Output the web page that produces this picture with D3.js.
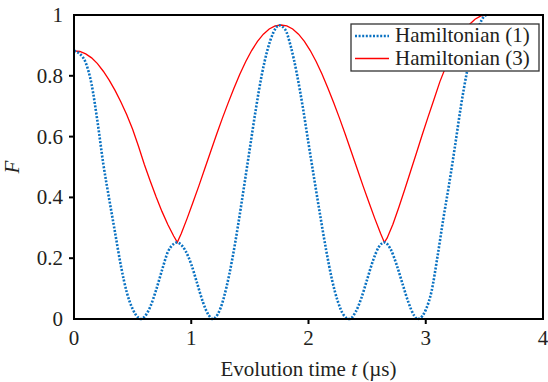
<!DOCTYPE html>
<html>
<head>
<meta charset="utf-8">
<script src="https://cdn.jsdelivr.net/npm/d3@7"></script>
<style>
    body { margin: 0; background: #fff; }
</style>
</head>
<body>
<svg></svg>
<script>

// Values.
var xTicks = [0, 1, 2, 3, 4];
var yTicks = [0, 0.2, 0.4, 0.6, 0.8, 1];
var yTickLabels = ['0', '0.2', '0.4', '0.6', '0.8', '1'];
var seriesNames = ['Hamiltonian (1)', 'Hamiltonian (3)'];

// Hamiltonian (1), dotted blue.
var blueT = [0, 0.05, 0.10, 0.15, 0.20, 0.25, 0.30, 0.35, 0.40, 0.45, 0.50, 0.55, 0.57,
    0.60, 0.65, 0.70, 0.75, 0.80, 0.85, 0.881, 0.90, 0.95, 1.00, 1.05, 1.10, 1.15, 1.183,
    1.20, 1.25, 1.30, 1.35, 1.40, 1.45, 1.50, 1.55, 1.60, 1.65, 1.70, 1.75, 1.80, 1.85,
    1.90, 1.95, 2.00, 2.05, 2.10, 2.15, 2.20, 2.25, 2.30, 2.348,
    2.40, 2.45, 2.50, 2.55, 2.60, 2.647, 2.70, 2.75, 2.80, 2.85, 2.90, 2.93,
    2.95, 3.00, 3.05, 3.10, 3.15, 3.20, 3.25, 3.30, 3.35, 3.40, 3.45, 3.50, 3.52];
var blueF = [0.882, 0.872, 0.843, 0.772, 0.650, 0.510, 0.395, 0.285, 0.175, 0.088, 0.033, 0.004, 0,
    0.007, 0.040, 0.095, 0.160, 0.220, 0.247, 0.252, 0.249, 0.225, 0.180, 0.118, 0.055, 0.012, 0,
    0.003, 0.036, 0.104, 0.197, 0.310, 0.435, 0.562, 0.688, 0.800, 0.885, 0.942, 0.966, 0.953, 0.895,
    0.808, 0.700, 0.578, 0.458, 0.340, 0.228, 0.130, 0.058, 0.013, 0,
    0.022, 0.068, 0.130, 0.192, 0.237, 0.252, 0.230, 0.180, 0.118, 0.057, 0.012, 0,
    0.002, 0.030, 0.092, 0.205, 0.330, 0.445, 0.570, 0.700, 0.810, 0.900, 0.960, 0.996, 1.0];

// Hamiltonian (3), solid red.
var redT = [0, 0.05, 0.10, 0.15, 0.20, 0.25, 0.30, 0.35, 0.40, 0.45, 0.50, 0.55, 0.60, 0.65,
    0.70, 0.75, 0.80, 0.85, 0.881,
    0.915, 0.965, 1.015, 1.065, 1.115, 1.165, 1.215, 1.265, 1.315, 1.365, 1.415, 1.465,
    1.515, 1.565, 1.615, 1.665, 1.715, 1.765,
    1.815, 1.865, 1.915, 1.965, 2.015, 2.065, 2.115, 2.165, 2.215, 2.265, 2.315, 2.365,
    2.415, 2.465, 2.515, 2.565, 2.615, 2.647,
    2.67, 2.72, 2.77, 2.82, 2.87, 2.92, 2.97, 3.02, 3.07, 3.12, 3.17, 3.22, 3.27, 3.32,
    3.37, 3.42, 3.47, 3.52];
var redF = [0.882, 0.880, 0.872, 0.859, 0.840, 0.815, 0.786, 0.752, 0.714, 0.672, 0.624, 0.568, 0.508, 0.454,
    0.402, 0.354, 0.311, 0.273, 0.252,
    0.281, 0.331, 0.384, 0.438, 0.494, 0.550, 0.606, 0.660, 0.711, 0.760, 0.806, 0.847,
    0.883, 0.913, 0.937, 0.954, 0.964, 0.967,
    0.964, 0.954, 0.937, 0.913, 0.883, 0.847, 0.806, 0.760, 0.711, 0.660, 0.606, 0.550,
    0.494, 0.438, 0.384, 0.331, 0.281, 0.252,
    0.266, 0.312, 0.367, 0.425, 0.485, 0.545, 0.606, 0.665, 0.722, 0.780, 0.829, 0.873,
    0.911, 0.943, 0.968, 0.986, 0.997, 1.0];

var serif = '"Liberation Serif", "Times New Roman", Times, "DejaVu Serif", serif';


//==========================================================================
// Layout.

var margin = { top: 15, right: 5, bottom: 63, left: 74 };
var width = 548 - margin.left - margin.right;
var height = 382 - margin.top - margin.bottom;

var svg = d3.select('svg')
    .attr('width', 548)
    .attr('height', 382)
    .style('font-family', serif)
;

var chart = svg.append('g')
    .attr('transform', 'translate(' + margin.left + ',' + margin.top + ')')
;

var xScale = d3.scaleLinear().domain([0, 4]).range([0, width]);
var yScale = d3.scaleLinear().domain([0, 1]).range([height, 0]);

var blue = d3.zip(blueT, blueF);
var red = d3.zip(redT, redF);


//==========================================================================
// Curves.

var lineSmooth = d3.line()
    .x(function(d) { return xScale(d[0]); })
    .y(function(d) { return yScale(d[1]); })
    .curve(d3.curveMonotoneX)
;

// The red curve has cusps, so keep it straight between points.
var lineCusp = d3.line()
    .x(function(d) { return xScale(d[0]); })
    .y(function(d) { return yScale(d[1]); })
;

chart.append('path')
    .attr('d', lineCusp(red))
    .style('fill', 'none')
    .style('stroke', '#ff0000')
    .style('stroke-width', 1.3)
;

chart.append('path')
    .attr('d', lineSmooth(blue))
    .style('fill', 'none')
    .style('stroke', '#0a72c2')
    .style('stroke-width', 2.6)
    .style('stroke-dasharray', '2,1.6')
;


//==========================================================================
// Frame, ticks and labels.

chart.append('rect')
    .attr('width', width)
    .attr('height', height)
    .style('fill', 'none')
    .style('stroke', '#000')
    .style('stroke-width', 2)
;

chart.selectAll('.x-tick')
    .data(xTicks.slice(1, -1))
    .enter()
    .append('line')
    .attr('x1', function(d) { return xScale(d); })
    .attr('x2', function(d) { return xScale(d); })
    .attr('y1', height)
    .attr('y2', height + 5)
    .style('stroke', '#000')
    .style('stroke-width', 2)
;

chart.selectAll('.x-label')
    .data(xTicks)
    .enter()
    .append('text')
    .attr('x', function(d) { return xScale(d); })
    .attr('y', height + 26)
    .attr('text-anchor', 'middle')
    .style('font-size', '21px')
    .style('fill', '#231f20')
    .text(function(d) { return d; })
;

chart.selectAll('.y-tick')
    .data(yTicks.slice(1, -1))
    .enter()
    .append('line')
    .attr('x1', -5)
    .attr('x2', 0)
    .attr('y1', function(d) { return yScale(d); })
    .attr('y2', function(d) { return yScale(d); })
    .style('stroke', '#000')
    .style('stroke-width', 2)
;

chart.selectAll('.y-label')
    .data(yTicks)
    .enter()
    .append('text')
    .attr('x', -11)
    .attr('y', function(d) { return yScale(d) + 7; })
    .attr('text-anchor', 'end')
    .style('font-size', '21px')
    .style('fill', '#231f20')
    .text(function(d, i) { return yTickLabels[i]; })
;

var xTitle = chart.append('text')
    .attr('x', width / 2)
    .attr('y', height + 57)
    .attr('text-anchor', 'middle')
    .style('font-size', '21px')
    .style('fill', '#231f20')
;
xTitle.append('tspan').text('Evolution time ');
xTitle.append('tspan').style('font-style', 'italic').text('t');
xTitle.append('tspan').text(' (\u00b5s)');

svg.append('text')
    .attr('transform', 'translate(19,' + (margin.top + height / 2) + ') rotate(-90)')
    .attr('text-anchor', 'middle')
    .style('font-size', '21px')
    .style('font-style', 'italic')
    .style('fill', '#231f20')
    .text('F')
;


//==========================================================================
// Legend.

var legend = svg.append('g')
    .attr('transform', 'translate(351,24)')
;

legend.append('rect')
    .attr('width', 188)
    .attr('height', 47)
    .style('fill', '#fff')
    .style('stroke', '#333')
    .style('stroke-width', 1.3)
;

var legendStyles = [
    { stroke: '#0a72c2', width: 2.6, dash: '2,1.6' },
    { stroke: '#ff0000', width: 1.3, dash: null }
];

var legendRows = legend.selectAll('.legend-row')
    .data(seriesNames)
    .enter()
    .append('g')
    .attr('transform', function(d, i) { return 'translate(0,' + (12 + i * 22.5) + ')'; })
;

legendRows.append('line')
    .attr('x1', 4)
    .attr('x2', 38)
    .style('stroke', function(d, i) { return legendStyles[i].stroke; })
    .style('stroke-width', function(d, i) { return legendStyles[i].width; })
    .style('stroke-dasharray', function(d, i) { return legendStyles[i].dash; })
;

legendRows.append('text')
    .attr('x', 44)
    .attr('y', 6)
    .style('font-size', '21px')
    .style('fill', '#231f20')
    .text(function(d) { return d; })
;

</script>
</body>
</html>
